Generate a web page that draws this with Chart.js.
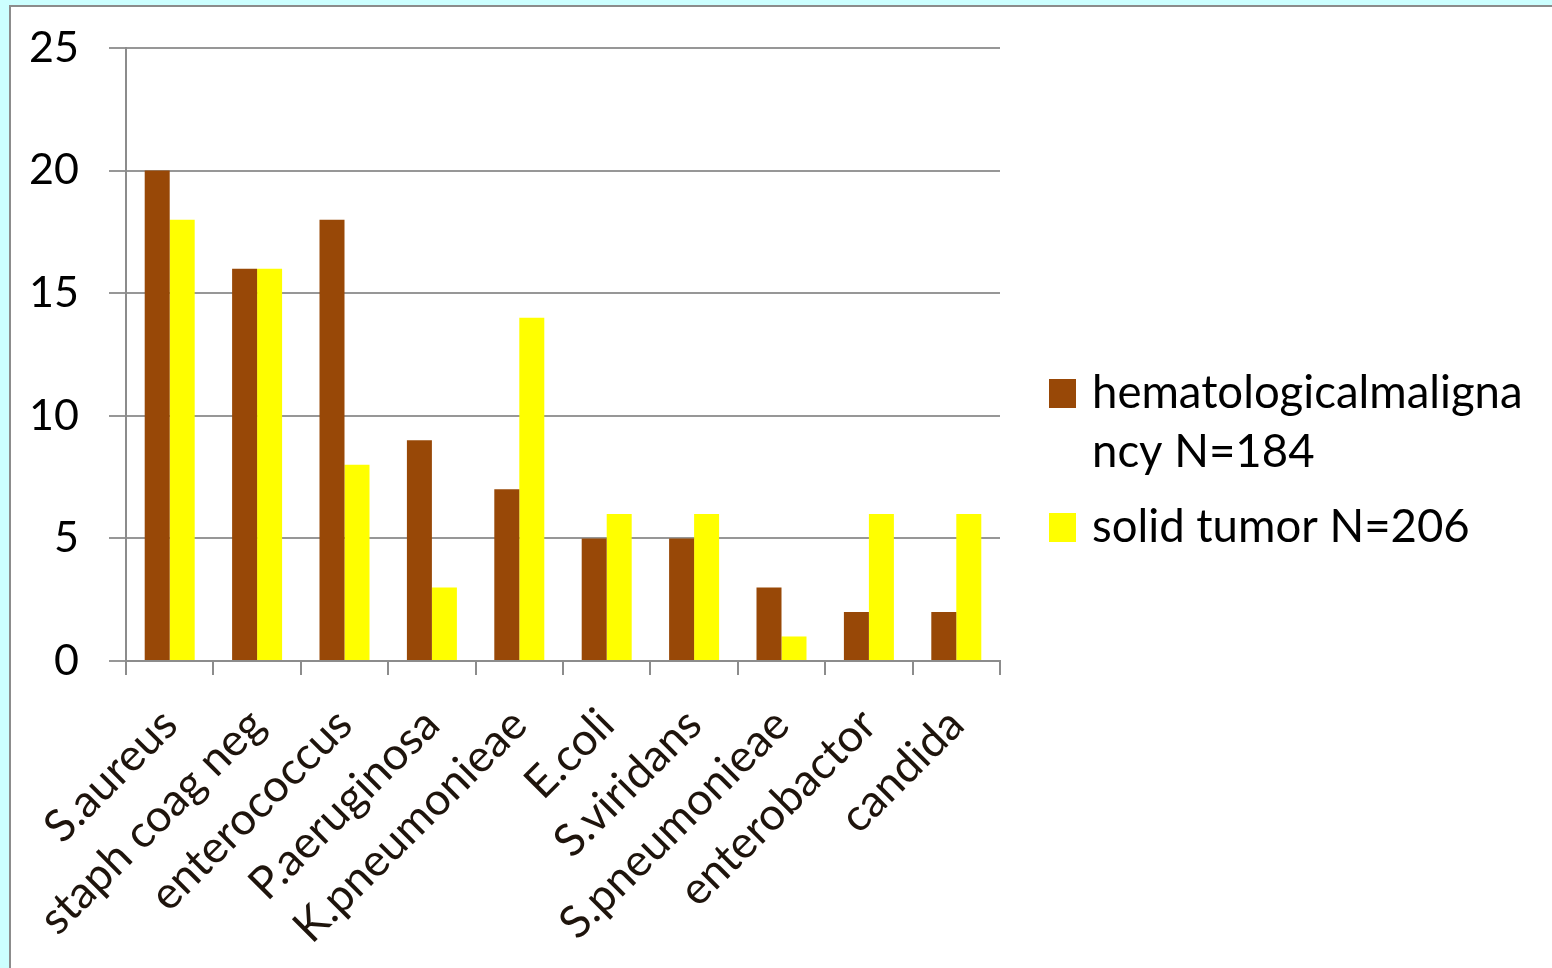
<!DOCTYPE html>
<html>
<head>
<meta charset="utf-8">
<script src="https://cdn.jsdelivr.net/npm/chart.js@4/dist/chart.umd.min.js"></script>
<style>
  html, body { margin: 0; padding: 0; background: #ccffff; overflow: hidden; }
  #frame {
    position: absolute; left: 9px; top: 5px; width: 1543px; height: 963px;
    background: #fff; border-top: 2px solid #8c8c8c; border-left: 2px solid #8c8c8c;
  }
  #wrap { position: absolute; left: 0; top: 0; width: 1541px; height: 961px; }
</style>
</head>
<body>
<div id="frame"><div id="wrap"><canvas id="bugChart"></canvas></div></div>
<script>
const categories = ['S.aureus', 'staph coag neg', 'enterococcus', 'P.aeruginosa', 'K.pneumonieae',
  'E.coli', 'S.viridans', 'S.pneumonieae', 'enterobactor', 'candida'];
const hematological = [20, 16, 18, 9, 7, 5, 5, 3, 2, 2];
const solidTumor = [18, 16, 8, 3, 14, 6, 6, 1, 6, 6];
const seriesNames = ['hematologicalmalignancy N=184', 'solid tumor N=206'];
const yTicks = [0, 5, 10, 15, 20, 25];

const FONT = 'Lato, "Open Sans", sans-serif';

// legend drawn by hand so the long name can wrap like the original
const sideLegend = {
  id: 'sideLegend',
  afterDraw(chart) {
    const c = chart.ctx;
    const x0 = chart.chartArea.right + 49;
    const textX = x0 + 43;
    const maxW = 445;
    c.save();
    c.font = '45.5px ' + FONT;
    c.textBaseline = 'middle';
    c.fillStyle = '#000';
    let y = 386;
    chart.data.datasets.forEach(ds => {
      // break the name into lines that fit
      const lines = [];
      let cur = '';
      for (const ch of ds.label) {
        if (c.measureText(cur + ch).width > maxW && cur) { lines.push(cur.trim()); cur = ch; }
        else cur += ch;
      }
      if (cur) lines.push(cur.trim());
      c.fillStyle = ds.backgroundColor;
      c.fillRect(x0, y - 14, 27, 29);
      c.fillStyle = '#000';
      lines.forEach((ln, i) => c.fillText(ln, textX, y + i * 59));
      y += lines.length * 59 + 16;
    });
    c.restore();
  }
};

new Chart(document.getElementById('bugChart'), {
  type: 'bar',
  data: {
    labels: categories,
    datasets: [
      { label: seriesNames[0], data: hematological, backgroundColor: '#984807' },
      { label: seriesNames[1], data: solidTumor, backgroundColor: '#ffff00' }
    ]
  },
  options: {
    responsive: true,
    maintainAspectRatio: false,
    animation: false,
    categoryPercentage: 0.572,
    barPercentage: 1,
    layout: { padding: { top: 41, right: 552, left: 0, bottom: 0 } },
    plugins: { legend: { display: false }, tooltip: { enabled: false } },
    scales: {
      x: {
        grid: { display: true, drawOnChartArea: false, offset: true, color: '#8c8c8c', lineWidth: 2, tickLength: 14 },
        border: { color: '#8c8c8c', width: 2 },
        ticks: { color: '#1e140c', font: { family: FONT, size: 45 }, minRotation: 45, maxRotation: 45, padding: 23 },
        afterFit(scale) { scale.height = 307; scale.paddingLeft = 0; scale.paddingRight = 0; }
      },
      y: {
        min: 0, max: 25,
        afterBuildTicks(scale) { scale.ticks = yTicks.map(v => ({ value: v })); },
        grid: { color: '#979797', lineWidth: 2, tickLength: 17 },
        border: { color: '#8c8c8c', width: 2 },
        ticks: { color: '#000', font: { family: FONT, size: 43 }, padding: 30 },
        afterFit(scale) { scale.width = 115; scale.paddingTop = 0; scale.paddingBottom = 0; }
      }
    }
  },
  plugins: [sideLegend]
});
</script>
</body>
</html>
